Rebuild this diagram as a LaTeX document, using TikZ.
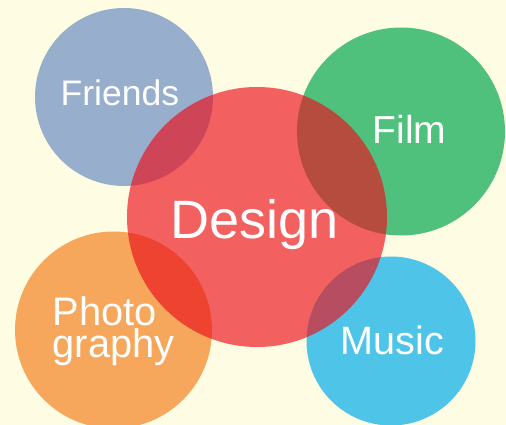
\documentclass[tikz,border=0pt]{standalone}
\usepackage{fontspec}
\setmainfont{Liberation Sans}
\definecolor{bgc}{RGB}{254,252,227}
\definecolor{friendsc}{RGB}{151,174,205}
\definecolor{filmc}{RGB}{79,193,125}
\definecolor{photoc}{RGB}{247,167,91}
\definecolor{musicc}{RGB}{78,196,232}
\definecolor{designc}{RGB}{236,16,28}
\tikzset{
  bubble/.style={circle, inner sep=0pt, minimum size=#1},
  lbl/.style={text=white, inner sep=0pt, anchor=base west},
}
\begin{document}
\begin{tikzpicture}[x=1pt,y=-1pt]
\fill[bgc] (0,0) rectangle (506,425);
\useasboundingbox (0,0) rectangle (506,425);
\clip (0,0) rectangle (506,425);
\node[bubble=178pt, fill=friendsc] (friends) at (124,97) {};
\node[bubble=208pt, fill=filmc] (film) at (401,131.5) {};
\node[bubble=197pt, fill=photoc] (photo) at (113.5,330) {};
\node[bubble=169pt, fill=musicc] (music) at (391,341) {};
\node[bubble=260pt, fill=designc, fill opacity=0.66] (design) at (257,217) {};
\node[lbl, font=\fontsize{35.5}{35.5}\selectfont] (tfriends) at (60.5,106) {Friends};
\node[lbl, font=\fontsize{39}{39}\selectfont] (tfilm) at (372.5,143) {Film};
\node[lbl, font=\fontsize{54}{54}\selectfont] (tdesign) at (170.5,238) {Design};
\node[lbl, font=\fontsize{39.6}{39.6}\selectfont] (tmusic) at (340.5,354) {Music};
\node[lbl, align=left, font=\fontsize{39.8}{32}\selectfont] (tphoto) at (52.5,357) {Photo\\graphy};
\end{tikzpicture}
\end{document}
